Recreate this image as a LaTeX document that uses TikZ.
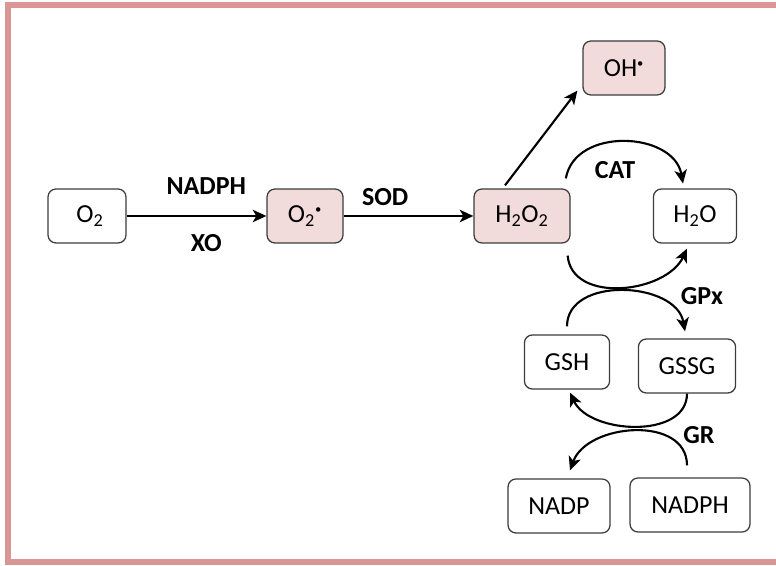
\documentclass[tikz,border=0pt]{standalone}
\usepackage{fontspec}
\setmainfont{Carlito}
\usepackage{xcolor}
\usepackage{tikz}
\usetikzlibrary{arrows.meta}
\definecolor{rospink}{RGB}{242,220,219}
\definecolor{framepink}{RGB}{217,150,148}
\definecolor{boxgray}{RGB}{60,60,60}
\newcommand{\raddot}{\textsuperscript{\fontsize{9}{9}\selectfont\textbullet}}

\begin{document}
\begin{tikzpicture}[
    >={Stealth[length=3.4mm,width=3.1mm,inset=0.9mm]},
    every node/.style={font=\fontsize{18.5}{22}\selectfont, inner sep=3pt},
    species/.style={draw=boxgray, line width=0.9pt, rounded corners=0.2cm, minimum height=1.35cm},
    ros/.style={species, fill=rospink},
    enzyme/.style={font=\fontsize{18.5}{22}\selectfont\bfseries},
    flow/.style={->, line width=1.5pt}
  ]
    \useasboundingbox (0,0) rectangle (19.4,14.15);

    % Frame
    \draw[framepink, line width=0.15cm] (19.4,14.025) -- (0.2,14.025) -- (0.2,0.0875) -- (19.4,0.0875);

    % Oxygen and superoxide
    \node[species, minimum width=1.95cm] (O2) at (2.175,8.75) {\hspace{0.15cm}O\textsubscript{2}};
    \node[ros, minimum width=1.9cm] (O2rad) at (7.625,8.75) {O\textsubscript{2}\raddot};

    % Peroxide, radical and water
    \node[ros, minimum width=2.4cm] (H2O2) at (13.05,8.75) {H\textsubscript{2}O\textsubscript{2}};
    \node[ros, minimum width=2.05cm] (OH) at (15.6,12.45) {OH\raddot};
    \node[species, minimum width=2.08cm] (H2O) at (17.375,8.75) {H\textsubscript{2}O};

    % Glutathione pair
    \node[species, minimum width=2.13cm] (GSH) at (14.175,5.1) {GSH};
    \node[species, minimum width=2.43cm] (GSSG) at (17.175,5.0) {GSSG};

    % Cofactors
    \node[species, minimum width=2.55cm] (NADP) at (13.975,1.5) {NADP};
    \node[species, minimum width=3.0cm] (NADPH) at (17.25,1.525) {NADPH};

    % Arrows
    \draw[flow] (O2) -- (O2rad)
      node[pos=0.57, above=0.4cm, enzyme] (nadphlbl) {NADPH}
      node[pos=0.57, below=0.32cm, enzyme] (xolbl) {XO};
    \draw[flow] (O2rad) -- (H2O2) node[pos=0.32, above=0.12cm, enzyme] (sodlbl) {SOD};
    \draw[flow] ([shift={(-0.425,0.075)}]H2O2.north) -- ([shift={(-0.125,0.125)}]OH.south west);

    % Catalase
    \draw[flow] ([shift={(-0.12,0.25)}]H2O2.north east) to[out=80,in=100,looseness=1.15] ([shift={(-0.3,0.12)}]H2O.north);
    \node[enzyme] (catlbl) at (15.375,9.9) {CAT};

    % Glutathione peroxidase
    \draw[flow] ([shift={(-0.075,-0.3)}]H2O2.south east) to[out=-85,in=-115,looseness=1.05] ([shift={(-0.2,-0.125)}]H2O.south);
    \draw[flow] ([yshift=0.2cm]GSH.north) to[out=90,in=100,looseness=1.1] ([shift={(-0.05,0.175)}]GSSG.north);
    \node[enzyme] (gpxlbl) at (17.55,6.75) {GPx};

    % Glutathione reductase
    \draw[flow] (GSSG.south) to[out=-90,in=-65] ([shift={(0.075,-0.075)}]GSH.south);
    \draw[flow] ([shift={(-0.075,0.3)}]NADPH.north) to[out=90,in=70,looseness=1.1] ([shift={(0.275,0.2)}]NADP.north);
    \node[enzyme] (grlbl) at (17.475,3.275) {GR};
  \end{tikzpicture}
\end{document}
